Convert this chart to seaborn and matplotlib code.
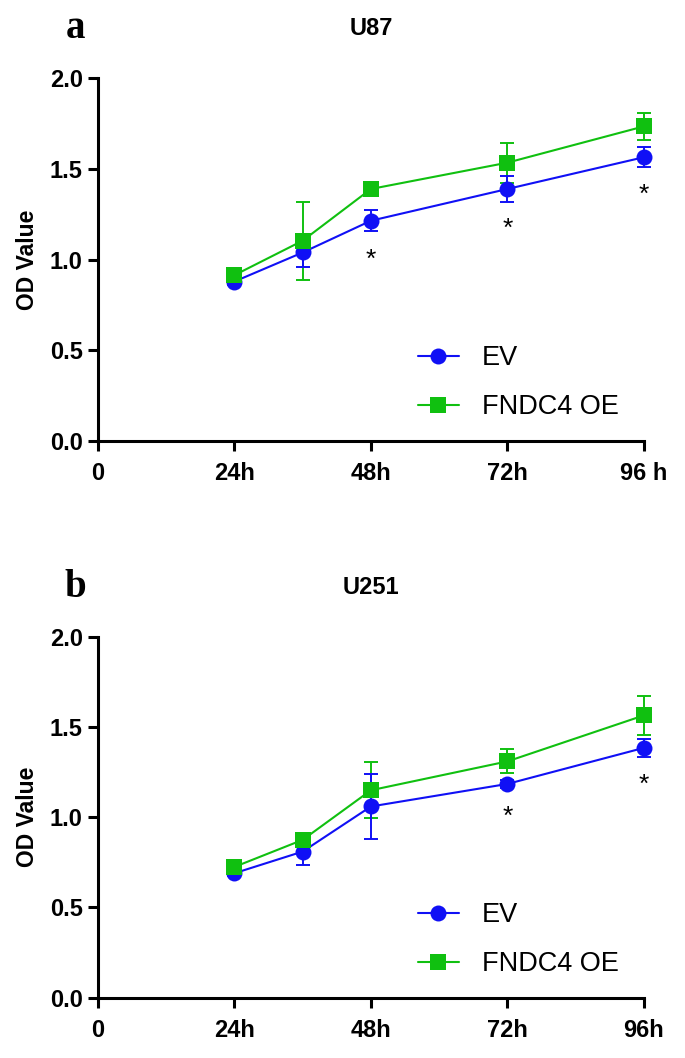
import numpy as np
import pandas as pd
import seaborn as sns
import matplotlib.pyplot as plt

# time points (h)
hours = [24, 36, 48, 72, 96]

# U87
u87_ev = [0.88, 1.04, 1.215, 1.39, 1.565]
u87_ev_err = [0.02, 0.08, 0.058, 0.074, 0.055]
u87_oe = [0.915, 1.105, 1.39, 1.535, 1.735]
u87_oe_err = [0.02, 0.215, 0.03, 0.11, 0.075]
u87_stars = [(48, 1.0), (72, 1.17), (96, 1.355)]

# U251
u251_ev = [0.69, 0.81, 1.06, 1.185, 1.385]
u251_ev_err = [0.015, 0.075, 0.18, 0.02, 0.05]
u251_oe = [0.725, 0.875, 1.15, 1.31, 1.565]
u251_oe_err = [0.015, 0.03, 0.155, 0.067, 0.11]
u251_stars = [(72, 1.0), (96, 1.18)]

tick_pos = [0, 24, 48, 72, 96]
ticks_a = ["0", "24h", "48h", "72h", "96 h"]
ticks_b = ["0", "24h", "48h", "72h", "96h"]

blue = "#1010f5"
green = "#10c010"

sns.set_style("white")
plt.rcParams['font.family'] = ['Liberation Sans', 'DejaVu Sans']
plt.rcParams['text.color'] = 'black'
plt.rcParams['axes.labelcolor'] = 'black'
plt.rcParams['xtick.color'] = 'black'
plt.rcParams['ytick.color'] = 'black'

fig = plt.figure(figsize=(6.85, 10.58), dpi=100)
ax_a = fig.add_axes([0.143, 0.583, 0.797, 0.343])
ax_b = fig.add_axes([0.143, 0.057, 0.797, 0.341])


def draw(ax, ev, ev_err, oe, oe_err, stars, ticklabels, title, letter):
    df = pd.DataFrame({
        "hour": hours * 2,
        "od": ev + oe,
        "group": ["EV"] * len(hours) + ["FNDC4 OE"] * len(hours),
    })
    ax.errorbar(hours, oe, yerr=oe_err, fmt="none", ecolor=green,
                elinewidth=1.4, capsize=5, capthick=1.4, clip_on=False, zorder=2)
    ax.errorbar(hours, ev, yerr=ev_err, fmt="none", ecolor=blue,
                elinewidth=1.4, capsize=5, capthick=1.4, clip_on=False, zorder=2)
    sns.lineplot(data=df, x="hour", y="od", hue="group", style="group",
                 palette={"EV": blue, "FNDC4 OE": green},
                 markers={"EV": "o", "FNDC4 OE": "s"},
                 dashes=False, markersize=11.5, markeredgewidth=0,
                 linewidth=1.5, ax=ax, clip_on=False, zorder=3)
    for x, y in stars:
        ax.text(x, y, "*", ha="center", va="center", fontsize=19)

    ax.set_xlim(0, 96)
    ax.set_ylim(0, 2.0)
    ax.set_xticks(tick_pos)
    ax.set_xticklabels(ticklabels)
    ax.set_yticks([0, 0.5, 1.0, 1.5, 2.0])
    ax.set_yticklabels(["0.0", "0.5", "1.0", "1.5", "2.0"])
    for lab in ax.get_xticklabels() + ax.get_yticklabels():
        lab.set_fontweight("bold")
        lab.set_fontsize(17)
    ax.tick_params(axis="both", direction="out", length=7, width=2.2,
                   color="black", pad=4, bottom=True, left=True)
    ax.tick_params(axis="x", pad=8)
    for s in ["top", "right"]:
        ax.spines[s].set_visible(False)
    for s in ["left", "bottom"]:
        ax.spines[s].set_linewidth(2.2)
        ax.spines[s].set_color("black")
    ax.set_xlabel("")
    ax.set_ylabel("OD Value", fontsize=16.5, fontweight="bold", labelpad=8)
    ax.set_title(title, fontsize=17, fontweight="bold", pad=31)
    ax.text(-0.042, 1.138, letter, transform=ax.transAxes, fontsize=28,
            fontweight="bold", family="Liberation Serif", ha="center", va="center")

    leg = ax.legend(loc="upper left", bbox_to_anchor=(0.586, 0.265), frameon=False,
                    fontsize=19.5, handlelength=1.5, labelspacing=0.85,
                    handletextpad=0.85, borderpad=0, borderaxespad=0)
    return leg


draw(ax_a, u87_ev, u87_ev_err, u87_oe, u87_oe_err, u87_stars, ticks_a, "U87", "a")
draw(ax_b, u251_ev, u251_ev_err, u251_oe, u251_oe_err, u251_stars, ticks_b, "U251", "b")

fig.savefig("out.png", dpi=100)
